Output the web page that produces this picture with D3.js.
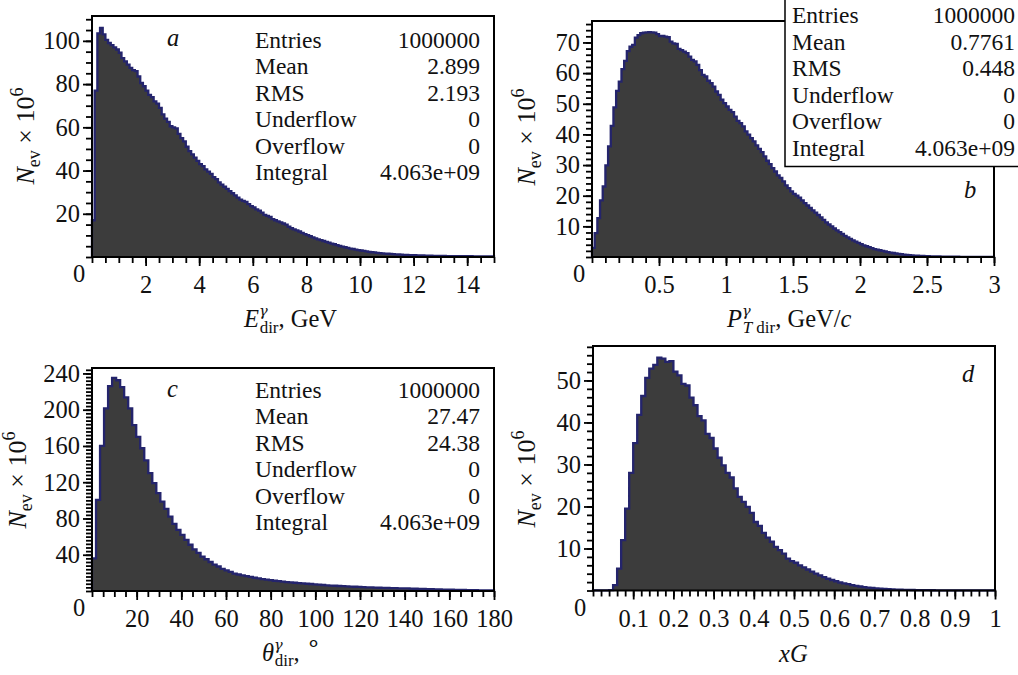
<!DOCTYPE html>
<html>
<head>
<meta charset="utf-8">
<script src="https://cdn.jsdelivr.net/npm/d3@7"></script>
<style>
  html, body { margin: 0; padding: 0; background: #fff; }
  svg { display: block; }
</style>
</head>
<body>
<script>
// ---- Histogram contents, events × 10^6 per bin ----

// a: direct photon energy, 150 bins of 0.1 GeV over [0, 15]
const eDirCounts = [
  17, 77, 103.5, 106, 103, 100.5, 99, 98, 97, 96,
  94.5, 92, 90.5, 89, 87.5, 86.5, 86, 83.5, 80.5, 79,
  77, 75, 74, 72, 71, 69, 66, 64, 62.5, 60.5,
  60, 59.5, 57, 55, 53.5, 51, 49, 47.5, 46, 44.5,
  43, 42, 40.5, 39.5, 38.5, 37, 36, 34.5, 33.5, 32.5,
  31.5, 30.5, 29.5, 28.5, 27.5, 26.5, 26, 25.5, 24.5, 23.5,
  23, 22, 21.5, 20.5, 19.5, 19, 18.5, 17.5, 17, 16.5,
  16, 15.5, 15, 14, 13.3, 12.8, 12.3, 11.8, 11.2, 10.6,
  10.1, 9.6, 9.1, 8.6, 8.2, 7.8, 7.4, 7.0, 6.6, 6.2,
  5.9, 5.5, 5.1, 4.8, 4.5, 4.2, 3.9, 3.7, 3.4, 3.2,
  3.0, 2.8, 2.6, 2.4, 2.2, 2.1, 1.9, 1.8, 1.7, 1.6,
  1.5, 1.4, 1.3, 1.2, 1.15, 1.1, 1.0, 0.95, 0.9, 0.85,
  0.8, 0.75, 0.7, 0.7, 0.65, 0.6, 0.6, 0.55, 0.55, 0.5,
  0.5, 0.5, 0.45, 0.45, 0.45, 0.4, 0.4, 0.4, 0.4, 0.35,
  0.35, 0.35, 0.3, 0.3, 0.3, 0.3, 0.3, 0.25, 0.25, 0.25
];

// b: transverse momentum, 150 bins of 0.02 GeV/c over [0, 3]
const ptDirCounts = [
  3.0, 7.8, 12.7, 18.5, 23.0, 29.9, 36.1, 42.8, 48.8, 54.2,
  57.2, 61.3, 64, 67.2, 68.6, 69.2, 71.6, 72.4, 73, 73.2,
  73.3, 73.4, 73.3, 73.2, 72.7, 72.1, 72.1, 71.9, 71.7, 70.3,
  69.7, 69.5, 67.9, 67.5, 67, 66.5, 65.4, 64.3, 63.8, 62.7,
  61, 59.4, 58.9, 57.5, 56.7, 55.6, 54, 52.9, 51.3, 50.2,
  49.1, 48, 47.3, 45.8, 44.4, 43.7, 42.6, 41, 39.9, 38.8,
  37.7, 36.4, 35.3, 34.2, 32.8, 31.4, 30.3, 29, 27.9, 26.6,
  25.8, 24.7, 23.4, 22.5, 21.4, 20.6, 20.0, 19.4, 18.5, 17.6,
  16.8, 16.0, 15.2, 14.5, 13.7, 12.9, 12.1, 11.3, 10.6, 10.0,
  9.3, 8.7, 8.1, 7.5, 6.9, 6.4, 5.9, 5.4, 5.0, 4.6,
  4.2, 3.8, 3.5, 3.2, 2.9, 2.6, 2.4, 2.2, 2.0, 1.8,
  1.6, 1.45, 1.3, 1.15, 1.0, 0.9, 0.8, 0.7, 0.62, 0.55,
  0.48, 0.42, 0.37, 0.33, 0.29, 0.25, 0.22, 0.2, 0.18, 0.16,
  0.14, 0.13, 0.12, 0.11, 0.1, 0.09, 0.08, 0.07, 0.07, 0.06,
  0.06, 0.05, 0.05, 0.04, 0.04, 0.04, 0.03, 0.03, 0.03, 0.03
];

// c: polar angle, 100 bins of 1.8 degrees over [0, 180]
const thetaDirCounts = [
  36, 100.5, 160, 201.5, 226, 235, 232.5, 225, 213.5, 201.5,
  183, 170, 157.5, 144, 130, 119, 108, 98.5, 90.5, 82,
  74, 67.5, 62, 56.5, 51, 46, 42, 38, 35, 32,
  29, 27, 24.5, 22.7, 21, 19.2, 18.2, 17.3, 16.3, 15.5,
  14.6, 13.9, 13.2, 12.5, 11.9, 11.3, 10.8, 10.3, 9.9, 9.5,
  9.1, 8.7, 8.4, 8.0, 7.7, 7.3, 7.0, 6.6, 6.3, 6.0,
  5.8, 5.5, 5.3, 5.1, 4.9, 4.7, 4.5, 4.3, 4.1, 3.9,
  3.7, 3.6, 3.4, 3.3, 3.2, 3.1, 3.0, 2.9, 2.8, 2.6,
  2.5, 2.4, 2.2, 2.1, 2.0, 1.8, 1.7, 1.6, 1.5, 1.4,
  1.3, 1.2, 1.1, 1.0, 0.95, 0.9, 0.8, 0.75, 0.7, 0.6
];

// d: gluon momentum fraction xG, 100 bins of 0.01 over [0, 1]
const xGCounts = [
  0.05, 0.05, 0.05, 0.05, 0.1, 1.3, 5.2, 12.0, 19.5, 28.0,
  35.1, 41.8, 46.3, 50.6, 52.8, 53.7, 55.4, 55.2, 54.4, 54.6,
  52.1, 51.2, 49.2, 48.8, 45.9, 44.1, 41.5, 40.5, 37.3, 36.3,
  33.8, 31.6, 29.8, 28.0, 26.9, 24.3, 22.3, 21.1, 19.9, 18.5,
  16.3, 15.4, 13.7, 12.6, 11.6, 10.4, 9.6, 8.8, 7.6, 7.0,
  6.6, 6.0, 5.5, 5.0, 4.5, 4.0, 3.6, 3.2, 2.8, 2.5,
  2.2, 1.9, 1.7, 1.5, 1.3, 1.1, 0.95, 0.82, 0.7, 0.6,
  0.52, 0.45, 0.38, 0.32, 0.27, 0.23, 0.2, 0.17, 0.14, 0.12,
  0.1, 0.09, 0.08, 0.07, 0.06, 0.05, 0.05, 0.04, 0.04, 0.03,
  0.03, 0.03, 0.02, 0.02, 0.02, 0.02, 0.01, 0.01, 0.01, 0.01
];

// ---- Axis ranges and labelled ticks ----
const eDirRange = [0, 15],    eDirYMax = 111.5;
const ptDirRange = [0, 3],    ptDirYMax = 77;
const thetaDirRange = [0, 180], thetaDirYMax = 246;
const xGRange = [0, 1],       xGYMax = 58.2;

const eDirXTicks = [2, 4, 6, 8, 10, 12, 14];
const ptDirXTicks = [0.5, 1, 1.5, 2, 2.5, 3];
const thetaDirXTicks = [20, 40, 60, 80, 100, 120, 140, 160, 180];
const xGXTicks = [0.1, 0.2, 0.3, 0.4, 0.5, 0.6, 0.7, 0.8, 0.9, 1];

const eDirYTicks = [20, 40, 60, 80, 100];
const ptDirYTicks = [10, 20, 30, 40, 50, 60, 70];
const thetaDirYTicks = [40, 80, 120, 160, 200, 240];
const xGYTicks = [10, 20, 30, 40, 50];

// ---- Statistics boxes ----
const statNames = ["Entries", "Mean", "RMS", "Underflow", "Overflow", "Integral"];
const eDirStats = ["1000000", "2.899", "2.193", "0", "0", "4.063e+09"];
const ptDirStats = ["1000000", "0.7761", "0.448", "0", "0", "4.063e+09"];
const thetaDirStats = ["1000000", "27.47", "24.38", "0", "0", "4.063e+09"];

// ---- Drawing ----
const W = 1018, H = 675;
const FONT = "'Liberation Serif', 'Times New Roman', Times, serif";
const GREEK = "'DejaVu Serif', 'Liberation Serif', serif";
const FS = 23.5;          // statistics text
const FS_TICK = 24.5;     // tick labels and panel letters
const FS_TITLE = 24.5;    // axis titles
const FS_SUB = 17;        // sub/superscripts
const FILL = "#3c3c3c", LINE = "#24246c";

const svg = d3.select("body").append("svg")
  .attr("width", W).attr("height", H)
  .attr("viewBox", `0 0 ${W} ${H}`)
  .style("font-family", FONT);

svg.append("rect").attr("width", W).attr("height", H).attr("fill", "#fff");

// write a run of styled pieces into one <text>
function richText(sel, parts) {
  parts.forEach(p => {
    const t = sel.append("tspan").text(p.t);
    if (p.it) t.attr("font-style", "italic");
    if (p.greek) t.attr("font-family", GREEK);
    t.attr("font-size", p.fs || FS_TITLE);
    if (p.dx) t.attr("dx", p.dx);
    if (p.dy) t.attr("dy", p.dy);
  });
  return sel;
}

const yTitleParts = [
  { t: "N", it: true, fs: 26 },
  { t: "ev", fs: FS_SUB + 1, dy: 6 },
  { t: " × 10", fs: 26, dy: -6 },
  { t: "6", fs: FS_SUB + 1, dy: -11 }
];

const gammaSup = { t: "γ", it: true, greek: true, fs: 14.5, dy: -11 };

const panels = [
  {
    letter: "a", counts: eDirCounts, xr: eDirRange, yMax: eDirYMax,
    box: { l: 92, r: 494, t: 16, b: 257 },
    xTicks: eDirXTicks, xMinor: 0.5, yTicks: eDirYTicks, yMinor: 5,
    letterPos: [167, 46], yTitle: [34, 136],
    xTitle: { x: 244, y: 327, parts: [
      { t: "E", it: true },
      gammaSup,
      { t: "dir", fs: FS_SUB, dx: -8, dy: 17 },
      { t: ", GeV", dy: -6 }
    ] },
    stats: eDirStats, statPos: { lx: 255, vx: 480, y0: 48, dy: 26.4, boxed: false }
  },
  {
    letter: "b", counts: ptDirCounts, xr: ptDirRange, yMax: ptDirYMax,
    box: { l: 592, r: 994, t: 21, b: 257 },
    xTicks: ptDirXTicks, xMinor: 0.1, yTicks: ptDirYTicks, yMinor: 2,
    letterPos: [964, 198], yTitle: [535, 137],
    xTitle: { x: 727, y: 327, parts: [
      { t: "P", it: true },
      gammaSup,
      { t: "T", it: true, fs: FS_SUB, dx: -8, dy: 17 },
      { t: " dir", fs: FS_SUB },
      { t: ", GeV/", dy: -6 },
      { t: "c", it: true }
    ] },
    stats: ptDirStats, statPos: { lx: 792, vx: 1015, y0: 23, dy: 26.6, boxed: true }
  },
  {
    letter: "c", counts: thetaDirCounts, xr: thetaDirRange, yMax: thetaDirYMax,
    box: { l: 92, r: 494, t: 368, b: 591 },
    xTicks: thetaDirXTicks, xMinor: 5, yTicks: thetaDirYTicks, yMinor: 4,
    letterPos: [167, 397], yTitle: [26, 480],
    xTitle: { x: 262, y: 661, parts: [
      { t: "θ", it: true },
      gammaSup,
      { t: "dir", fs: FS_SUB, dx: -8, dy: 16 },
      { t: ", ", dy: -5 },
      { t: "∘", fs: 24, dy: -10 }
    ] },
    stats: thetaDirStats, statPos: { lx: 255, vx: 480, y0: 398, dy: 26.4, boxed: false }
  },
  {
    letter: "d", counts: xGCounts, xr: xGRange, yMax: xGYMax,
    box: { l: 593, r: 995, t: 346, b: 590.5 },
    xTicks: xGXTicks, xMinor: 0.02, yTicks: xGYTicks, yMinor: 2,
    letterPos: [962, 382], yTitle: [535, 479],
    xTitle: { x: 779, y: 662, parts: [
      { t: "x", it: true },
      { t: "G", it: true }
    ] },
    stats: null
  }
];

panels.forEach(p => {
  const g = svg.append("g");
  const { l, r, t, b } = p.box;
  const x = d3.scaleLinear().domain(p.xr).range([l, r]);
  const y = d3.scaleLinear().domain([0, p.yMax]).range([b, t]);

  // histogram as a filled step outline
  const n = p.counts.length;
  const w = (p.xr[1] - p.xr[0]) / n;
  const pts = [[p.xr[0], 0]];
  p.counts.forEach((v, i) => {
    pts.push([p.xr[0] + i * w, v]);
    pts.push([p.xr[0] + (i + 1) * w, v]);
  });
  pts.push([p.xr[1], 0]);

  g.append("path")
    .datum(pts)
    .attr("fill", FILL)
    .attr("d", d3.area().x(d => x(d[0])).y0(y(0)).y1(d => y(d[1])));
  g.append("path")
    .datum(pts)
    .attr("fill", "none")
    .attr("stroke", LINE)
    .attr("stroke-width", 2.3)
    .attr("d", d3.line().x(d => x(d[0])).y(d => y(d[1])));

  // frame
  g.append("rect")
    .attr("x", l).attr("y", t).attr("width", r - l).attr("height", b - t)
    .attr("fill", "none").attr("stroke", "#000").attr("stroke-width", 2);

  // minor ticks
  const xMinorVals = d3.range(p.xr[0], p.xr[1] + p.xMinor / 2, p.xMinor);
  const yMinorVals = d3.range(0, p.yMax, p.yMinor);

  const xMinorAxis = g.append("g").attr("transform", `translate(0,${b})`)
    .call(d3.axisBottom(x).tickValues(xMinorVals).tickSize(6).tickFormat(""));
  const yMinorAxis = g.append("g").attr("transform", `translate(${l},0)`)
    .call(d3.axisLeft(y).tickValues(yMinorVals).tickSize(6).tickFormat(""));

  // major ticks with labels
  const xAxis = g.append("g").attr("transform", `translate(0,${b})`)
    .call(d3.axisBottom(x).tickValues(p.xTicks).tickSize(9)
      .tickFormat(d => String(d)));
  const yAxis = g.append("g").attr("transform", `translate(${l},0)`)
    .call(d3.axisLeft(y).tickValues(p.yTicks).tickSize(9).tickPadding(3)
      .tickFormat(d => String(d)));

  [xMinorAxis, yMinorAxis, xAxis, yAxis].forEach(ax => {
    ax.select(".domain").remove();
    ax.selectAll(".tick line").attr("stroke", "#000").attr("stroke-width", 1.8);
    ax.selectAll("text")
      .attr("font-family", FONT).attr("font-size", FS_TICK).attr("fill", "#111");
  });
  xAxis.selectAll(".tick text").attr("y", 19).attr("dy", "0.71em");

  // origin label below-left of the corner
  g.append("text")
    .attr("x", l - 13).attr("y", b + 25)
    .attr("text-anchor", "middle")
    .attr("font-size", FS_TICK).attr("fill", "#111")
    .text("0");

  // y title
  richText(g.append("text")
    .attr("transform", `translate(${p.yTitle[0]},${p.yTitle[1]}) rotate(-90)`)
    .attr("text-anchor", "middle").attr("fill", "#111"), yTitleParts);

  // x title
  richText(g.append("text")
    .attr("x", p.xTitle.x).attr("y", p.xTitle.y).attr("fill", "#111"), p.xTitle.parts);

  // panel letter
  g.append("text")
    .attr("x", p.letterPos[0]).attr("y", p.letterPos[1])
    .attr("font-size", FS_TICK).attr("font-style", "italic").attr("fill", "#111")
    .text(p.letter);

  // statistics
  if (p.stats) {
    const s = p.statPos;
    if (s.boxed) {
      g.append("rect")
        .attr("x", 785).attr("y", -5).attr("width", 240).attr("height", 171.5)
        .attr("fill", "#fff").attr("stroke", "#000").attr("stroke-width", 1.5);
    }
    statNames.forEach((name, i) => {
      g.append("text").attr("x", s.lx).attr("y", s.y0 + i * s.dy)
        .attr("font-size", FS).attr("fill", "#111").text(name);
      g.append("text").attr("x", s.vx).attr("y", s.y0 + i * s.dy)
        .attr("text-anchor", "end")
        .attr("font-size", FS).attr("fill", "#111").text(p.stats[i]);
    });
  }
});
</script>
</body>
</html>
